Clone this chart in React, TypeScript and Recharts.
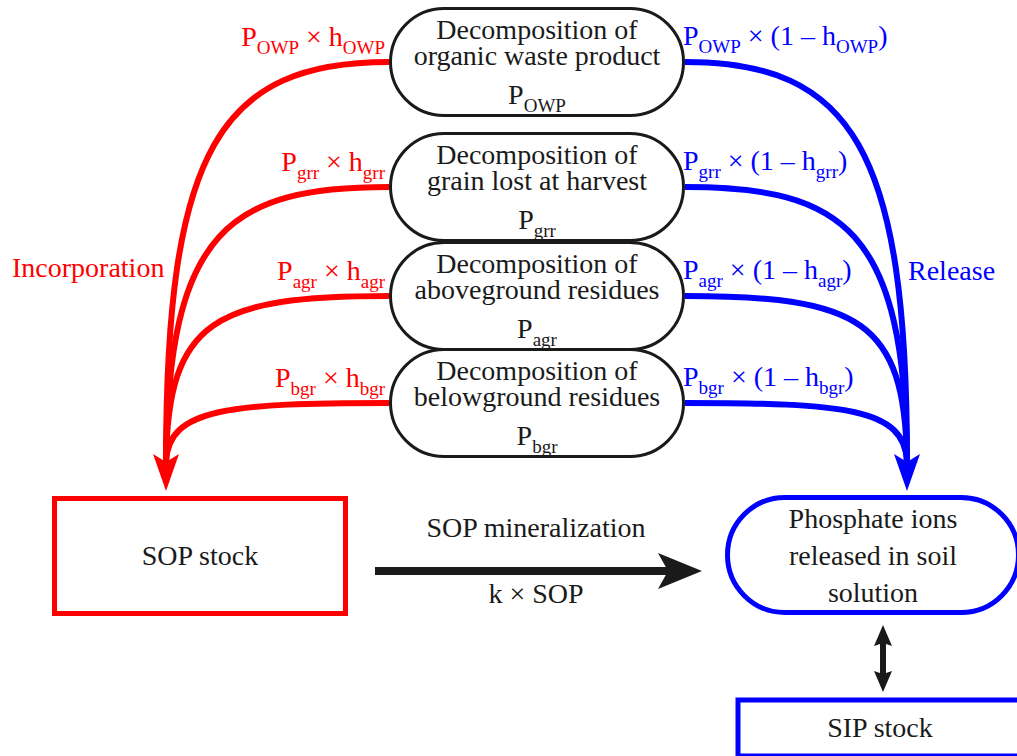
import { ComposedChart, Line, Scatter, XAxis, YAxis } from "recharts";

const WIDTH = 1017;
const HEIGHT = 756;
const SERIF = "'Liberation Serif', 'Times New Roman', Times, serif";
const INK = "#1a1a1a";
const RED = "#ff0000";
const BLUE = "#0000ff";

// decomposition pools, top to bottom
const poolNames = ["organic waste product", "grain lost at harvest", "aboveground residues", "belowground residues"];
const poolSymbols = ["OWP", "grr", "agr", "bgr"];
const poolY = [62, 187, 296, 403];
const poolX = 537;

const incorporationLabels = ["P_{OWP} × h_{OWP}", "P_{grr} × h_{grr}", "P_{agr} × h_{agr}", "P_{bgr} × h_{bgr}"];
const releaseLabels = [
  "P_{OWP} × (1 – h_{OWP})",
  "P_{grr} × (1 – h_{grr})",
  "P_{agr} × (1 – h_{agr})",
  "P_{bgr} × (1 – h_{bgr})",
];

// flows drawn as cubic curves: start, control, control, end
const incorporationFlows = [
  [[389, 62], [220, 62], [166, 150], [166, 462]],
  [[389, 187], [230, 187], [168, 230], [166, 462]],
  [[389, 296], [215, 296], [168, 320], [166, 462]],
  [[389, 403], [230, 403], [168, 408], [166, 462]],
];
const releaseFlows = [
  [[685, 62], [852, 62], [907, 150], [907, 462]],
  [[685, 187], [844, 187], [905, 230], [907, 462]],
  [[685, 296], [859, 296], [905, 320], [907, 462]],
  [[685, 403], [844, 403], [905, 408], [907, 462]],
];
const incorporationTip = [[166, 491]];
const releaseTip = [[907, 491]];

// SOP -> solution, solution <-> SIP
const mineralizationShaft = [[375, 571], [668, 571]];
const mineralizationTip = [[702, 571]];
const exchangeShaft = [[883, 640], [883, 677]];
const exchangeTipUp = [[883, 625]];
const exchangeTipDown = [[883, 692]];

const stocks = [
  { x: 200, y: 556, label: "SOP stock" },
  { x: 880, y: 728, label: "SIP stock" },
];
const solutionLines = ["Phosphate ions", "released in soil", "solution"];
const solutionCenter = [873, 555];

const pts = (list: number[][]) => list.map(([x, y]) => ({ x, y }));

// chained cubic bezier through start, c1, c2, end (, c1, c2, end ...)
const cubicCurve = (context: any) => {
  let p: number[][] = [];
  return {
    areaStart() {},
    areaEnd() {},
    lineStart() {
      p = [];
    },
    point(x: number, y: number) {
      p.push([x, y]);
    },
    lineEnd() {
      if (!p.length) return;
      context.moveTo(p[0][0], p[0][1]);
      for (let i = 1; i + 2 < p.length; i += 3) {
        context.bezierCurveTo(p[i][0], p[i][1], p[i + 1][0], p[i + 1][1], p[i + 2][0], p[i + 2][1]);
      }
    },
  };
};

function Formula({ x, y, text, anchor = "middle", fill = INK }: any) {
  const parts = text.split(/(_\{[^}]*\})/).filter(Boolean);
  let wasSub = false;
  const spans = parts.map((part: string, i: number) => {
    if (part.startsWith("_{")) {
      wasSub = true;
      return (
        <tspan key={i} dy={8} fontSize={19}>
          {part.slice(2, -1)}
        </tspan>
      );
    }
    const dy = wasSub ? -8 : 0;
    wasSub = false;
    return (
      <tspan key={i} dy={dy}>
        {part}
      </tspan>
    );
  });
  return (
    <text x={x} y={y} textAnchor={anchor} fill={fill} fontFamily={SERIF} fontSize={28} style={{ whiteSpace: "pre" }}>
      {spans}
    </text>
  );
}

function arrowHead(cx: number, cy: number, dx: number, dy: number, len: number, half: number, notch: number, fill: string) {
  const bx = cx - dx * len;
  const by = cy - dy * len;
  const nx = cx - dx * (len - notch);
  const ny = cy - dy * (len - notch);
  const px = -dy * half;
  const py = dx * half;
  return <path d={`M${cx},${cy}L${bx + px},${by + py}L${nx},${ny}L${bx - px},${by - py}Z`} fill={fill} />;
}

const poolData = poolY.map((y, i) => ({ x: poolX, y, name: poolNames[i], sym: poolSymbols[i] }));
const incLabelData = poolY.map((y, i) => ({ x: 385, y: y - 16, text: incorporationLabels[i] }));
const relLabelData = poolY.map((y, i) => ({ x: 683, y: y - 17, text: releaseLabels[i] }));

const PoolShape = (props: any) => {
  const { cx, cy, payload } = props;
  const w = 293;
  const h = 107;
  return (
    <g>
      <rect x={cx - w / 2} y={cy - h / 2} width={w} height={h} rx={h / 2} fill="#fff" stroke={INK} strokeWidth={3} />
      <text x={cx} y={cy - 23} textAnchor="middle" fill={INK} fontFamily={SERIF} fontSize={28}>
        Decomposition of
      </text>
      <text x={cx} y={cy + 3} textAnchor="middle" fill={INK} fontFamily={SERIF} fontSize={28}>
        {payload.name}
      </text>
      <Formula x={cx} y={cy + 42} text={`P_{${payload.sym}}`} />
    </g>
  );
};

const StockShape = (props: any) => {
  const { cx, cy, payload, index } = props;
  const w = index === 0 ? 291 : 284;
  const h = index === 0 ? 115 : 56;
  return (
    <g>
      <rect x={cx - w / 2} y={cy - h / 2} width={w} height={h} fill="#fff" stroke={index === 0 ? RED : BLUE} strokeWidth={5} />
      <text x={cx} y={cy + 9} textAnchor="middle" fill={INK} fontFamily={SERIF} fontSize={28}>
        {payload.label}
      </text>
    </g>
  );
};

const SolutionShape = (props: any) => {
  const { cx, cy } = props;
  const w = 291;
  const h = 115;
  return (
    <g>
      <rect x={cx - w / 2} y={cy - h / 2} width={w} height={h} rx={h / 2} fill="#fff" stroke={BLUE} strokeWidth={5} />
      {solutionLines.map((line, i) => (
        <text key={i} x={cx} y={cy - 27 + i * 37} textAnchor="middle" fill={INK} fontFamily={SERIF} fontSize={28}>
          {line}
        </text>
      ))}
    </g>
  );
};

const flowLine = (list: number[][], color: string, key: string, width = 6, curved = true) => (
  <Line
    key={key}
    data={pts(list)}
    dataKey="y"
    type={curved ? (cubicCurve as any) : "linear"}
    stroke={color}
    strokeWidth={width}
    fill="none"
    dot={false}
    activeDot={false}
    isAnimationActive={false}
  />
);

export default function App() {
  return (
    <div style={{ position: "absolute", left: 0, top: 0, width: WIDTH, height: HEIGHT, background: "#fff" }}>
      <ComposedChart width={WIDTH} height={HEIGHT} margin={{ top: 0, right: 0, bottom: 0, left: 0 }}>
        <XAxis type="number" dataKey="x" domain={[0, WIDTH]} hide allowDataOverflow />
        <YAxis type="number" dataKey="y" domain={[0, HEIGHT]} reversed hide allowDataOverflow />

        {incorporationFlows.map((f, i) => flowLine(f, RED, `inc${i}`))}
        {releaseFlows.map((f, i) => flowLine(f, BLUE, `rel${i}`))}
        {flowLine(mineralizationShaft, INK, "min", 8, false)}
        {flowLine(exchangeShaft, INK, "exch", 6, false)}

        <Scatter data={pts(incorporationTip)} isAnimationActive={false} shape={(p: any) => arrowHead(p.cx, p.cy, 0, 1, 37, 13, 8, RED)} />
        <Scatter data={pts(releaseTip)} isAnimationActive={false} shape={(p: any) => arrowHead(p.cx, p.cy, 0, 1, 37, 13, 8, BLUE)} />
        <Scatter data={pts(mineralizationTip)} isAnimationActive={false} shape={(p: any) => arrowHead(p.cx, p.cy, 1, 0, 44, 18, 10, INK)} />
        <Scatter data={pts(exchangeTipUp)} isAnimationActive={false} shape={(p: any) => arrowHead(p.cx, p.cy, 0, -1, 21, 9, 3, INK)} />
        <Scatter data={pts(exchangeTipDown)} isAnimationActive={false} shape={(p: any) => arrowHead(p.cx, p.cy, 0, 1, 21, 9, 3, INK)} />

        <Scatter data={poolData} isAnimationActive={false} shape={PoolShape} />
        <Scatter data={stocks} isAnimationActive={false} shape={StockShape} />
        <Scatter data={pts([solutionCenter])} isAnimationActive={false} shape={SolutionShape} />

        <Scatter
          data={incLabelData}
          isAnimationActive={false}
          shape={(p: any) => <Formula x={p.cx} y={p.cy} text={p.payload.text} anchor="end" fill={RED} />}
        />
        <Scatter
          data={relLabelData}
          isAnimationActive={false}
          shape={(p: any) => <Formula x={p.cx} y={p.cy} text={p.payload.text} anchor="start" fill={BLUE} />}
        />
        <Scatter
          data={[
            { x: 12, y: 277, text: "Incorporation", c: RED },
            { x: 908, y: 280, text: "Release", c: BLUE },
          ]}
          isAnimationActive={false}
          shape={(p: any) => <Formula x={p.cx} y={p.cy} text={p.payload.text} anchor="start" fill={p.payload.c} />}
        />
        <Scatter
          data={[
            { x: 536, y: 537, text: "SOP mineralization" },
            { x: 536, y: 603, text: "k × SOP" },
          ]}
          isAnimationActive={false}
          shape={(p: any) => <Formula x={p.cx} y={p.cy} text={p.payload.text} />}
        />
      </ComposedChart>
    </div>
  );
}
